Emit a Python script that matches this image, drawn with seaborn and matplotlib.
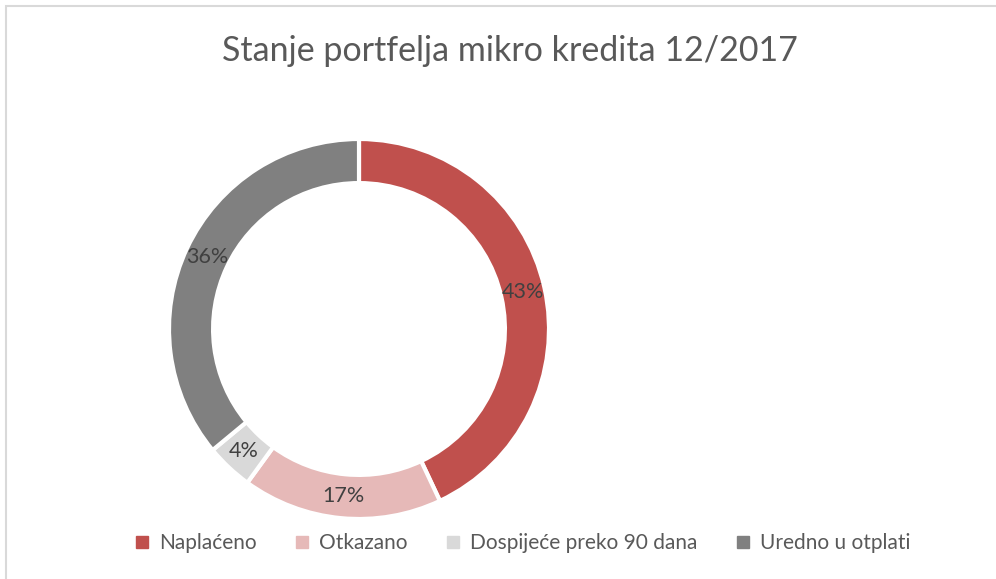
import matplotlib
matplotlib.use("Agg")
import matplotlib.pyplot as plt
from matplotlib.lines import Line2D
from matplotlib.patches import Rectangle
import seaborn as sns

categories = ["Naplaćeno", "Otkazano", "Dospijeće preko 90 dana", "Uredno u otplati"]
shares = [43, 17, 4, 36]
colors = ["#C0504D", "#E6B9B8", "#D9D9D9", "#808080"]
title = "Stanje portfelja mikro kredita 12/2017"

sns.set_theme(style="white")
plt.rcParams["font.family"] = ["Lato", "DejaVu Sans"]

fig = plt.figure(figsize=(9.96, 5.79), dpi=100)
fig.patch.set_facecolor("white")

# light chart-area border like the Excel original
fig.patches.append(Rectangle((6 / 996, -0.01), 1.02, 1 - 6 / 579 + 0.01,
                             transform=fig.transFigure, fill=False,
                             edgecolor="#D9D9D9", linewidth=1.5))

ax = fig.add_axes([169 / 996, 60 / 579, 380 / 996, 380 / 579])
wedges, texts, autotexts = ax.pie(
    shares, colors=colors, startangle=90, counterclock=False,
    autopct="%1.0f%%", pctdistance=0.884,
    wedgeprops=dict(width=0.232, edgecolor="white", linewidth=3),
    textprops=dict(color="#404040", fontsize=15.5))
ax.set_xlim(-1, 1)
ax.set_ylim(-1, 1)
ax.set_aspect("equal")
ax.axis("off")

fig.text(510 / 996, 1 - 51 / 579, title, ha="center", va="center",
         fontsize=24.5, color="#595959")

handles = [Line2D([0], [0], marker="s", linestyle="none", markersize=8,
                  markerfacecolor=c, markeredgecolor=c) for c in colors]
fig.legend(handles, categories, loc="center", ncol=4,
           bbox_to_anchor=(522 / 996, 1 - 543 / 579), frameon=False,
           fontsize=15, labelcolor="#595959", handlelength=0.8,
           handletextpad=0.4, columnspacing=1.8)

plt.savefig("out.png", dpi=100)
plt.close()
